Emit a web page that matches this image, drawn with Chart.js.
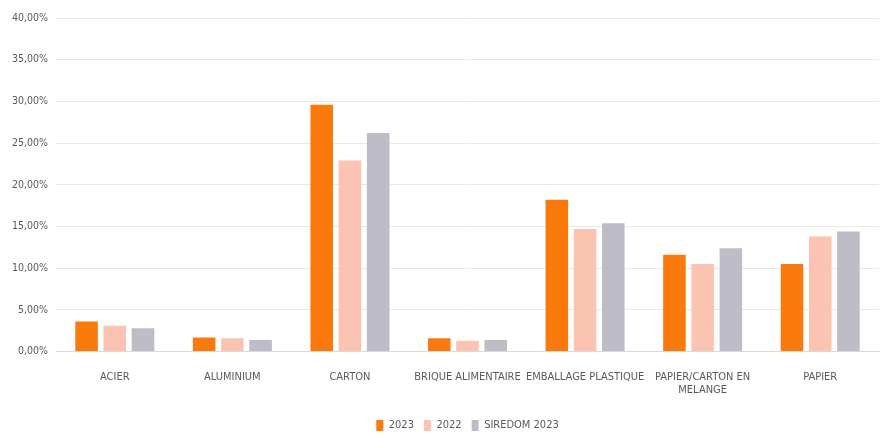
<!DOCTYPE html>
<html>
<head>
<meta charset="utf-8">
<script src="https://cdn.jsdelivr.net/npm/chart.js@4.4.0/dist/chart.umd.min.js"></script>
<style>
html,body{margin:0;padding:0;background:#fff;}
#wrap{width:883px;height:435px;position:relative;}
</style>
</head>
<body>
<div id="wrap"><canvas id="c"></canvas></div>
<script>
const categories = ['ACIER', 'ALUMINIUM', 'CARTON', 'BRIQUE ALIMENTAIRE', 'EMBALLAGE PLASTIQUE', ['PAPIER/CARTON EN', 'MELANGE'], 'PAPIER'];
const series2023 = [3.6, 1.7, 29.6, 1.6, 18.2, 11.6, 10.5];
const series2022 = [3.1, 1.6, 22.9, 1.3, 14.7, 10.5, 13.8];
const seriesSiredom = [2.8, 1.4, 26.2, 1.4, 15.4, 12.4, 14.4];
const seriesNames = ['2023', '2022', 'SIREDOM 2023'];
const yTicks = [0, 5, 10, 15, 20, 25, 30, 35, 40];

const fam = "'Liberation Sans Narrow', 'DejaVu Sans Condensed', 'Liberation Sans', sans-serif";
const fontX = {family: fam, size: 11};
const fontY = {family: fam, size: 10.5};

new Chart(document.getElementById('c'), {
  type: 'bar',
  data: {
    labels: categories,
    datasets: [
      {label: seriesNames[0], data: series2023, backgroundColor: '#FB7A0E'},
      {label: seriesNames[1], data: series2022, backgroundColor: '#FBC4B2'},
      {label: seriesNames[2], data: seriesSiredom, backgroundColor: '#BEBDC7'}
    ]
  },
  options: {
    responsive: true,
    maintainAspectRatio: false,
    animation: false,
    layout: {padding: {top: 18, left: 4, right: 4, bottom: -6}},
    datasets: {bar: {categoryPercentage: 0.72, barPercentage: 0.8}},
    scales: {
      x: {
        grid: {display: false},
        border: {color: '#d9d9d9'},
        ticks: {color: '#595959', font: fontX, maxRotation: 0, autoSkip: false, padding: 11},
        title: {display: true, text: ' ', padding: 0, font: {size: 10, lineHeight: 0.2}}
      },
      y: {
        min: 0, max: 40,
        afterBuildTicks: (ax) => { ax.ticks = yTicks.map(v => ({value: v})); },
        grid: {color: '#e8e8e8', drawTicks: false},
        border: {display: false},
        ticks: {
          color: '#595959', font: fontY, padding: 8,
          callback: v => v.toFixed(2).replace('.', ',') + '%'
        }
      }
    },
    plugins: {
      legend: {
        position: 'bottom',
        fullSize: false,
        labels: {color: '#595959', font: fontX, boxWidth: 7, boxHeight: 11, padding: 10}
      },
      tooltip: {enabled: false}
    }
  }
});
</script>
</body>
</html>
